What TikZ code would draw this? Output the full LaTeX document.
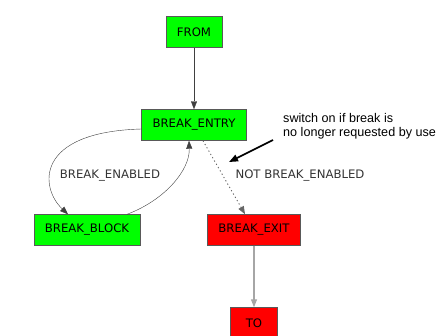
\documentclass[tikz,border=0pt]{standalone}
\usepackage{fontspec}
\setmainfont{DejaVu Sans}
\newfontfamily\notefont{Liberation Sans}
\usetikzlibrary{arrows.meta,calc}

\definecolor{stategreen}{RGB}{0,255,0}
\definecolor{statered}{RGB}{255,0,0}

\tikzstyle{state}=[shape=rectangle,draw=black!65,minimum height=31pt,inner xsep=11pt,font=\fontsize{11.7}{14}\selectfont]
\tikzstyle{okstate}=[state,fill=stategreen]
\tikzstyle{exitstate}=[state,fill=statered]
\tikzstyle{mainedge}=[-{Triangle[length=8pt,width=6pt]},black!75]
\tikzstyle{lightedge}=[mainedge,black!35,line width=1.2pt]
\tikzstyle{dottededge}=[mainedge,black!60,line width=0.9pt,dash pattern=on 1.2pt off 2.6pt]
\tikzstyle{edgelabel}=[font=\fontsize{11.7}{14}\selectfont,text=black!80]
\tikzstyle{notearrow}=[-{Triangle[length=9pt,width=7pt]},line width=1.6pt]

\begin{document}
\begin{tikzpicture}[x=1pt,y=-1pt]
\useasboundingbox (0,0) rectangle (436,335);
\clip (0,0) rectangle (436,335);
% states
\node[okstate,minimum width=52pt]   (from)  at (194,32)  {FROM};
\node[okstate]                      (entry) at (194,125) {BREAK\_ENTRY};
\node[okstate]                      (block) at (87,230)  {BREAK\_BLOCK};
\node[exitstate]                    (exit)  at (254,230) {BREAK\_EXIT};
\node[exitstate,minimum width=47pt] (to)    at (254,323) {TO};
% transitions
\draw[mainedge] (from) -- (entry);
\draw[mainedge] ($(entry.west)+(0,4)$) .. controls (34,132) and (40,188) .. ($(block.north)+(-19,0)$);
\draw[mainedge] ($(block.north)+(40,0)$) .. controls (165,200) and (190,170) .. ($(entry.south)+(-5,0)$);
\draw[dottededge] (entry) -- (exit);
\draw[lightedge] (exit) -- (to);
% labels
\node[edgelabel] (enabled)    at (110,176) {BREAK\_ENABLED};
\node[edgelabel] (notenabled) at (300,176) {NOT BREAK\_ENABLED};
% note
\node[anchor=north west,inner sep=0pt,align=left,font=\notefont\fontsize{12.6}{14.5}\selectfont] (note) at (283,113)
    {switch on if break is\\no longer requested by use};
\coordinate (notestart) at (273,140);
\coordinate (notetip)   at (229,162);
\draw[notearrow] (notestart) -- (notetip);
\end{tikzpicture}
\end{document}
